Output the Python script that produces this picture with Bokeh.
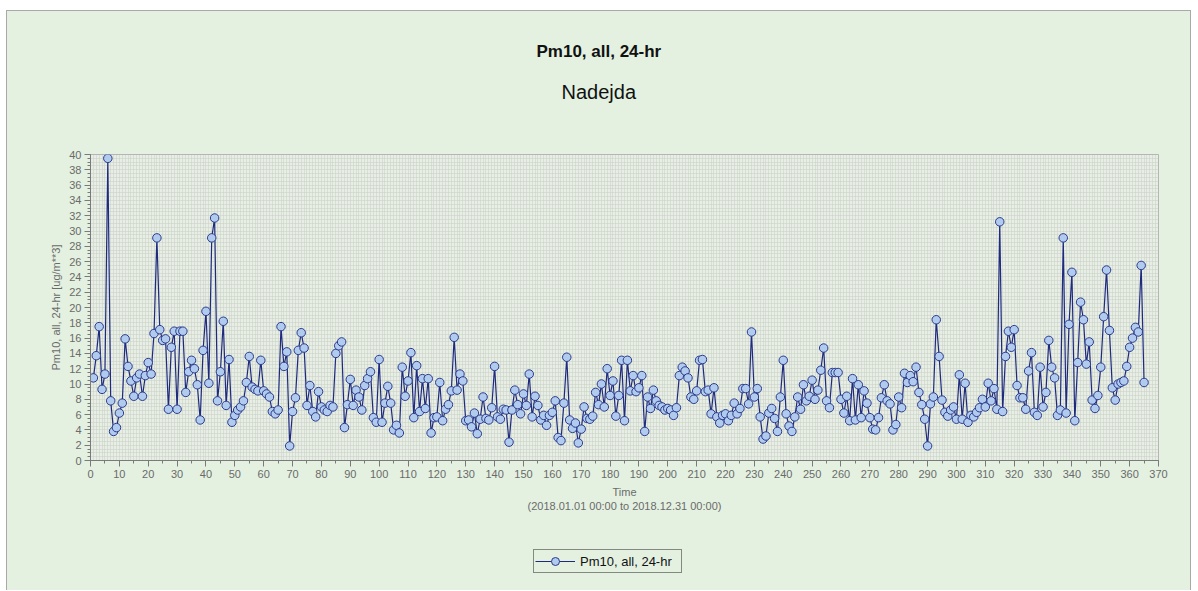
from bokeh.plotting import figure
from bokeh.layouts import column
from bokeh.models import Range1d, SingleIntervalTicker, Grid, Title, Legend, LegendItem
from bokeh.embed import file_html
from bokeh.resources import INLINE

title_text = "Pm10, all, 24-hr"
subtitle_text = "Nadejda"
series_name = "Pm10, all, 24-hr"
y_label = "Pm10, all, 24-hr [ug/m**3]"
x_label = "Time\n(2018.01.01 00:00 to 2018.12.31 00:00)"

days = list(range(1, 366))
pm10 = [
    10.8, 13.7, 17.5, 9.3, 11.3, 39.5, 7.8, 3.8, 4.3, 6.2,
    7.5, 15.9, 12.3, 10.4, 8.4, 10.8, 11.3, 8.4, 11.1, 12.8,
    11.3, 16.6, 29.1, 17.1, 15.7, 15.9, 6.7, 14.8, 16.9, 6.7,
    16.9, 16.9, 8.9, 11.6, 13.1, 12.0, 9.9, 5.3, 14.4, 19.5,
    10.1, 29.1, 31.7, 7.8, 11.6, 18.2, 7.2, 13.2, 5.0, 5.9,
    6.6, 7.0, 7.8, 10.2, 13.6, 9.6, 9.3, 9.1, 13.1, 9.1,
    8.7, 8.3, 6.4, 6.1, 6.6, 17.5, 12.3, 14.2, 1.9, 6.4,
    8.2, 14.4, 16.7, 14.7, 7.2, 9.8, 6.4, 5.7, 9.0, 7.0,
    6.6, 6.4, 7.2, 7.0, 14.0, 15.0, 15.5, 4.3, 7.3, 10.6,
    7.2, 9.2, 8.3, 6.6, 9.8, 10.7, 11.6, 5.6, 5.0, 13.2,
    5.0, 7.5, 9.7, 7.5, 4.0, 4.6, 3.6, 12.2, 8.4, 10.4,
    14.1, 5.6, 12.4, 6.4, 10.7, 6.8, 10.7, 3.6, 5.6, 5.7,
    10.2, 5.2, 6.7, 7.3, 9.1, 16.1, 9.2, 11.3, 10.4, 5.2,
    5.3, 4.4, 6.2, 3.5, 5.4, 8.3, 5.5, 5.3, 6.9, 12.3,
    5.7, 5.4, 6.7, 6.6, 2.4, 6.6, 9.2, 7.3, 6.1, 8.7,
    7.2, 11.3, 5.7, 8.4, 7.2, 5.3, 5.9, 4.6, 5.9, 6.3,
    7.8, 3.0, 2.6, 7.5, 13.5, 5.3, 4.2, 4.9, 2.3, 4.1,
    7.0, 5.5, 5.4, 5.8, 8.9, 7.3, 10.0, 7.0, 12.0, 8.5,
    10.4, 5.8, 8.5, 13.1, 5.2, 13.1, 9.1, 11.1, 9.0, 9.5,
    11.1, 3.8, 8.3, 6.8, 9.2, 7.8, 7.2, 7.0, 6.6, 6.8,
    6.6, 5.9, 6.9, 11.1, 12.2, 11.7, 10.8, 8.3, 8.0, 9.1,
    13.1, 13.2, 9.0, 9.2, 6.1, 9.5, 5.7, 4.9, 5.9, 6.1,
    5.2, 5.9, 7.5, 6.1, 6.8, 9.4, 9.4, 7.4, 16.8, 8.3,
    9.4, 5.7, 2.8, 3.2, 6.2, 6.8, 5.5, 3.8, 8.3, 13.1,
    6.1, 4.5, 3.8, 5.7, 8.3, 6.7, 9.9, 7.8, 8.4, 10.5,
    8.0, 9.2, 11.8, 14.7, 7.8, 6.9, 11.5, 11.5, 11.5, 8.0,
    6.2, 8.4, 5.2, 10.7, 5.3, 9.9, 5.6, 9.1, 7.5, 5.6,
    4.1, 4.0, 5.6, 8.2, 9.9, 7.8, 7.4, 4.0, 4.7, 8.3,
    6.9, 11.4, 10.2, 11.1, 10.3, 12.2, 8.9, 7.3, 5.4, 1.9,
    7.4, 8.3, 18.4, 13.6, 7.9, 6.3, 5.8, 6.6, 7.0, 5.4,
    11.2, 5.4, 10.1, 5.0, 5.9, 5.7, 6.3, 6.9, 8.0, 7.0,
    10.1, 7.8, 9.4, 6.7, 31.2, 6.4, 13.6, 16.9, 14.8, 17.1,
    9.8, 8.2, 8.2, 6.7, 11.7, 14.1, 6.3, 5.9, 12.2, 7.0,
    8.9, 15.7, 12.2, 10.8, 5.9, 6.6, 29.1, 6.2, 17.8, 24.6,
    5.2, 12.8, 20.7, 18.4, 12.6, 15.5, 7.9, 6.8, 8.5, 12.2,
    18.8, 24.9, 17.0, 9.5, 7.9, 10.0, 10.2, 10.4, 12.3, 14.8,
    16.0, 17.4, 16.8, 25.5, 10.2,
]

FONT = "Liberation Sans"
BG = "#E4F1E1"
PLOT_BG = "#E8EEE5"
GRID = "#C6CEC2"
AXIS = "#7A7A7A"
TICK_TXT = "#6A6A6A"
LINE = "#1E2A7E"
MARK_FILL = "#B0CBEE"
MARK_LINE = "#2A3A8C"

# whole chart sits inside a bordered box offset by (7, 11) on the page
p = figure(frame_width=1068, frame_height=306, output_backend="svg", toolbar_location=None,
           x_range=Range1d(0, 370), y_range=Range1d(0, 40),
           min_border_left=83, min_border_right=32, min_border_top=143,
           min_border_bottom=86)
p.background_fill_color = PLOT_BG
p.border_fill_color = BG
p.outline_line_color = "#B5B5B5"

# titles: p.title is outermost; the first added Title is closest to the frame
p.title.text = title_text
p.title.text_font = FONT
p.title.text_font_size = "17px"
p.title.text_font_style = "bold"
p.title.text_color = "#111111"
p.title.align = "left"
p.title.offset = 446
p.title.standoff = 25
spacer = Title(text=" ", text_font=FONT, text_font_size="10px", standoff=34,
               text_color=BG)
p.add_layout(spacer, "above")
t2 = Title(text=subtitle_text, text_font=FONT, text_font_size="20px",
           text_font_style="normal", text_color="#111111", align="left",
           offset=471, standoff=10)
p.add_layout(t2, "above")

# axes
p.xaxis.ticker = SingleIntervalTicker(interval=10, num_minor_ticks=2)
p.yaxis.ticker = SingleIntervalTicker(interval=2, num_minor_ticks=4)
for ax in (p.xaxis[0], p.yaxis[0]):
    ax.axis_line_color = AXIS
    ax.major_tick_line_color = AXIS
    ax.minor_tick_line_color = AXIS
    ax.major_tick_out = 6
    ax.major_tick_in = 0
    ax.minor_tick_out = 3
    ax.minor_tick_in = 0
    ax.major_label_text_font = FONT
    ax.major_label_text_font_size = "11px"
    ax.major_label_text_color = TICK_TXT
    ax.axis_label_text_font = FONT
    ax.axis_label_text_font_size = "11px"
    ax.axis_label_text_font_style = "normal"
    ax.axis_label_text_color = TICK_TXT
p.xaxis.axis_label = x_label
p.yaxis.axis_label = y_label
p.xaxis.axis_label_standoff = 5
p.yaxis.axis_label_standoff = 4
p.xaxis.major_label_standoff = 3
p.yaxis.major_label_standoff = 3

# dense dotted grid
p.xgrid.grid_line_color = None
p.ygrid.grid_line_color = None
gx = Grid(dimension=0, ticker=SingleIntervalTicker(interval=1),
          grid_line_color=GRID, grid_line_dash="1 1", grid_line_width=1)
gy = Grid(dimension=1, ticker=SingleIntervalTicker(interval=0.5),
          grid_line_color=GRID, grid_line_dash="1 1", grid_line_width=1)
p.add_layout(gx)
p.add_layout(gy)

p.line(days, pm10, line_color=LINE, line_width=1.2)
p.scatter(days, pm10, marker="circle", size=8.5, fill_color=MARK_FILL,
          line_color=MARK_LINE, line_width=1)

# legend strip below the chart (its sample renderers sit outside the visible range)
p2 = figure(width=1183, height=44, output_backend="svg", toolbar_location=None,
            x_axis_location=None, y_axis_location=None, min_border=0,
            x_range=Range1d(0, 1), y_range=Range1d(0, 1))
p2.background_fill_color = BG
p2.border_fill_color = BG
p2.outline_line_color = None
p2.xgrid.grid_line_color = None
p2.ygrid.grid_line_color = None
ln2 = p2.line(x=[-5, -4], y=[-5, -5], line_color=LINE, line_width=1.2)
sc2 = p2.scatter(x=[-5], y=[-5], marker="circle", size=10, fill_color=MARK_FILL,
                 line_color=MARK_LINE, line_width=1)
legend = Legend(items=[LegendItem(label=series_name, renderers=[ln2, sc2])],
                orientation="horizontal", location=(443, 17))
legend.label_text_font = FONT
legend.label_text_font_size = "13px"
legend.label_text_color = "#111111"
legend.label_text_baseline = "middle"
legend.background_fill_color = BG
legend.background_fill_alpha = 1
legend.border_line_color = "#222222"
legend.border_line_width = 1
legend.glyph_width = 40
legend.glyph_height = 20
legend.label_height = 14
legend.label_width = 100
legend.label_standoff = 5
legend.padding = 1
legend.spacing = 0
legend.margin = 0
p2.add_layout(legend)

layout = column(p, p2, spacing=0, margin=(10, 0, 0, 6),
                styles={"background-color": BG, "border": "1px solid #A9A9A9",
                        "border-bottom": "none"})
open("out.html", "w").write(file_html(layout, INLINE))
